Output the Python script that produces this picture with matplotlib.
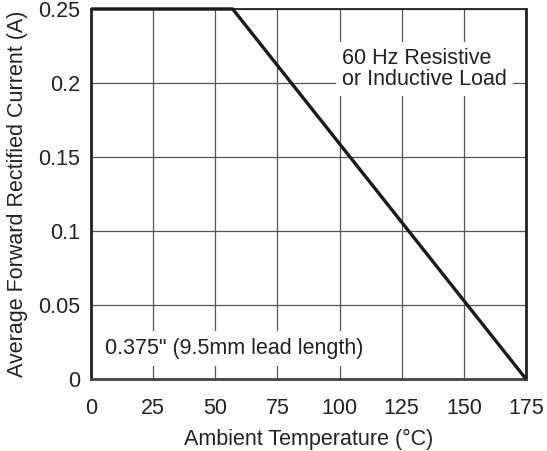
import matplotlib
matplotlib.use("Agg")
import matplotlib.pyplot as plt

plt.rcParams['font.family'] = ['Liberation Sans', 'DejaVu Sans']

# Derating curve data
temps = [0, 57, 175]
currents = [0.25, 0.25, 0.0]
xticks = [0, 25, 50, 75, 100, 125, 150, 175]
yticks = [0, 0.05, 0.1, 0.15, 0.2, 0.25]
ytick_labels = ['0', '0.05', '0.1', '0.15', '0.2', '0.25']

fig = plt.figure(figsize=(5.47, 4.51), dpi=100)
ax = fig.add_axes([91/547, 1-379/451, (526-91)/547, (379-9)/451])

ax.set_xlim(0, 175)
ax.set_ylim(0, 0.25)
ax.set_xticks(xticks)
ax.set_yticks(yticks)
ax.set_yticklabels(ytick_labels)
ax.grid(True, color='#555555', linewidth=0.9)
ax.set_axisbelow(True)
ax.tick_params(length=0, labelsize=15.5, colors='#222222')
ax.tick_params(axis='x', pad=14)
ax.tick_params(axis='y', pad=8)

ax.plot(temps, currents, color='#1a1a1a', linewidth=2.4, solid_capstyle='butt', zorder=5, clip_on=False)

for side in ['left', 'right', 'bottom']:
    ax.spines[side].set_linewidth(2.0)
    ax.spines[side].set_color('#222222')
ax.spines['bottom'].set_color('#444444')
ax.spines['top'].set_linewidth(1.3)
ax.spines['top'].set_color('#222222')

ax.text(101, 0.2095, "60 Hz Resistive\nor Inductive Load", fontsize=15.5, color='#222222',
        ha='left', va='center', linespacing=1.05,
        bbox=dict(facecolor='white', edgecolor='none', pad=4), zorder=3)
ax.text(5.8, 0.0205, "0.375\" (9.5mm lead length)", fontsize=15.5, color='#222222',
        ha='left', va='center',
        bbox=dict(facecolor='white', edgecolor='none', pad=5), zorder=3)

ax.set_xlabel("Ambient Temperature (\u00b0C)", fontsize=15.5, color='#222222', labelpad=7)
ax.set_ylabel("Average Forward Rectified Current (A)", fontsize=15.5, color='#222222', labelpad=7)

fig.savefig("out.png", dpi=100)
